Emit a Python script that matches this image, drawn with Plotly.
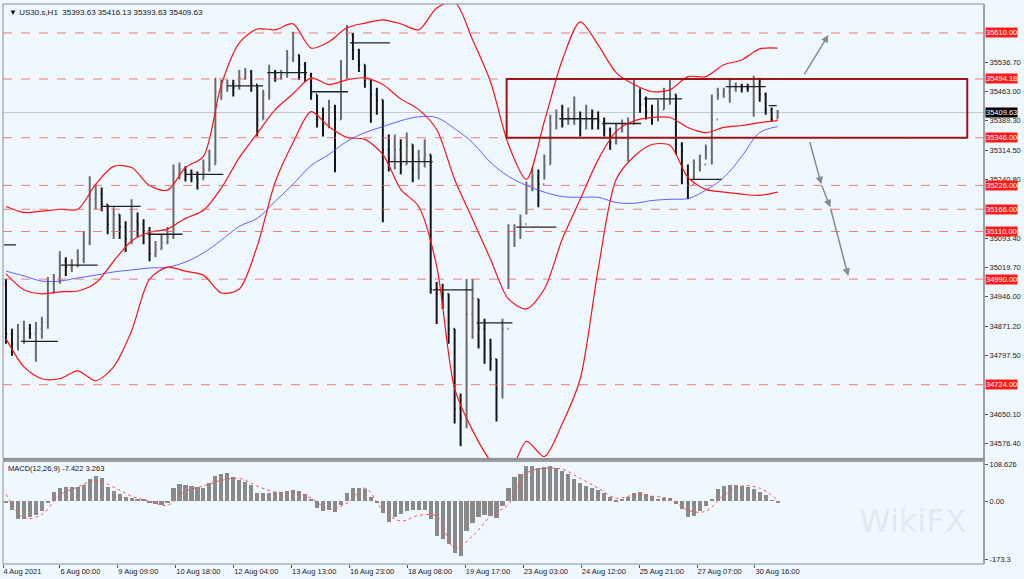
import plotly.graph_objects as go

# ---------------- data ----------------
header_text = "US30.s,H1  35393.63 35416.13 35393.63 35409.63"
macd_text = "MACD(12,26,9) -7.422 3.263"

first_open = 34978
close = [34852, 34827, 34845, 34865, 34852, 34865, 34882, 34978, 34983, 35035,
         35020, 35025, 35040, 35083, 35191, 35204, 35178, 35128, 35153, 35121,
         35091, 35136, 35128, 35111, 35053, 35065, 35083, 35096, 35254, 35266,
         35254, 35246, 35241, 35266, 35279, 35462, 35472, 35480, 35472, 35497,
         35512, 35480, 35392, 35455, 35512, 35497, 35505, 35547, 35555, 35530,
         35505, 35455, 35392, 35379, 35422, 35392, 35505, 35605, 35567, 35530,
         35492, 35455, 35442, 35316, 35291, 35316, 35279, 35329, 35266, 35291,
         35304, 34965, 34953, 34953, 34865, 34664, 34639, 34902, 34940, 34865,
         34827, 34789, 34714, 34865, 35103, 35103, 35128, 35216, 35246, 35229,
         35279, 35379, 35404, 35392, 35397, 35404, 35387, 35397, 35392, 35387,
         35367, 35334, 35362, 35379, 35387, 35462, 35429, 35412, 35399, 35417,
         35442, 35455, 35329, 35254, 35229, 35271, 35279, 35316, 35392, 35455,
         35462, 35472, 35475, 35472, 35472, 35480, 35455, 35417, 35393.63, 35409.63]
high = [34990, 34865, 34877, 34885, 34877, 34882, 34895, 34995, 35003, 35060,
        35045, 35040, 35065, 35111, 35249, 35229, 35221, 35178, 35171, 35153,
        35136, 35191, 35158, 35141, 35121, 35086, 35103, 35121, 35279, 35284,
        35274, 35266, 35261, 35291, 35316, 35497, 35492, 35492, 35492, 35517,
        35522, 35517, 35480, 35467, 35530, 35517, 35517, 35567, 35613, 35555,
        35537, 35510, 35455, 35422, 35442, 35429, 35542, 35630, 35610, 35570,
        35530, 35492, 35472, 35442, 35354, 35354, 35342, 35359, 35329, 35316,
        35342, 35304, 34983, 34978, 34953, 34865, 34702, 34990, 34990, 34940,
        34890, 34840, 34789, 34890, 35128, 35128, 35153, 35236, 35271, 35266,
        35304, 35404, 35417, 35429, 35422, 35450, 35412, 35429, 35417, 35412,
        35397, 35372, 35384, 35392, 35397, 35492, 35470, 35450, 35429, 35442,
        35472, 35492, 35455, 35335, 35279, 35291, 35304, 35329, 35455, 35472,
        35472, 35497, 35485, 35482, 35482, 35502, 35497, 35460, 35422, 35416.13]
low = [34827, 34797, 34810, 34827, 34840, 34782, 34840, 34865, 34953, 34978,
       34998, 35008, 35020, 35030, 35075, 35166, 35161, 35103, 35091, 35091,
       35058, 35078, 35096, 35078, 35035, 35045, 35065, 35078, 35091, 35241,
       35236, 35234, 35216, 35241, 35261, 35279, 35442, 35462, 35450, 35467,
       35492, 35462, 35349, 35392, 35442, 35487, 35492, 35497, 35537, 35492,
       35487, 35442, 35372, 35349, 35370, 35259, 35392, 35495, 35542, 35512,
       35472, 35384, 35404, 35133, 35261, 35266, 35254, 35279, 35234, 35241,
       35271, 34953, 34877, 34915, 34827, 34626, 34569, 34614, 34840, 34815,
       34777, 34759, 34631, 34689, 34965, 35071, 35091, 35153, 35211, 35171,
       35241, 35279, 35367, 35372, 35379, 35379, 35349, 35367, 35367, 35367,
       35349, 35316, 35329, 35359, 35286, 35379, 35409, 35392, 35379, 35387,
       35417, 35429, 35304, 35229, 35191, 35241, 35261, 35291, 35279, 35442,
       35447, 35434, 35462, 35460, 35462, 35399, 35437, 35404, 35387, 35393.63]

# indicators sampled every 3rd bar
ind_step = 3
bb_upper = [35173, 35158, 35161, 35166, 35166, 35229, 35274, 35271, 35226, 35214,
            35271, 35299, 35480, 35585, 35620, 35618, 35633, 35572, 35588, 35623,
            35635, 35643, 35633, 35618, 35673, 35688, 35593, 35487, 35329, 35241,
            35387, 35542, 35638, 35580, 35510, 35480, 35462, 35467, 35500, 35500,
            35530, 35542, 35570, 35572]
bb_middle = [35003, 34963, 34953, 34958, 34960, 34980, 35035, 35086, 35108, 35116,
             35143, 35163, 35219, 35296, 35357, 35417, 35457, 35497, 35480, 35492,
             35497, 35480, 35444, 35417, 35367, 35241, 35141, 35040, 34940, 34915,
             34965, 35091, 35191, 35291, 35362, 35389, 35397, 35397, 35372, 35359,
             35372, 35377, 35384, 35389]
bb_lower = [34840, 34769, 34739, 34739, 34759, 34734, 34769, 34860, 34990, 35020,
            35010, 35000, 34955, 34965, 35073, 35234, 35334, 35412, 35374, 35347,
            35342, 35304, 35216, 35173, 35023, 34714, 34609, 34533, 34501, 34581,
            34543, 34626, 34739, 35015, 35241, 35299, 35329, 35327, 35246, 35216,
            35209, 35204, 35201, 35209]
ma_blue = [35010, 34998, 34985, 34985, 34993, 35000, 35008, 35013, 35018, 35020,
           35033, 35056, 35088, 35123, 35143, 35186, 35229, 35276, 35304, 35337,
           35359, 35374, 35389, 35399, 35397, 35369, 35334, 35284, 35249, 35226,
           35209, 35198, 35196, 35196, 35183, 35181, 35188, 35191, 35193, 35214,
           35246, 35299, 35359, 35374]

macd_hist = [-6, -27, -53, -53, -47, -42, -30, -6, 27, 39,
             42, 42, 42, 47, 65, 74, 68, 42, 30, 21,
             12, 9, 6, 3, -6, -9, -12, -6, 39, 50,
             47, 45, 42, 39, 53, 74, 80, 83, 71, 62,
             56, 47, 24, 24, 24, 27, 27, 30, 33, 30,
             21, 6, -21, -30, -27, -33, -12, 24, 39, 39,
             36, 12, -6, -36, -62, -47, -39, -30, -27, -27,
             -27, -53, -104, -113, -128, -154, -163, -89, -65, -47,
             -42, -45, -50, -15, 39, 71, 80, 104, 104, 98,
             101, 104, 98, 89, 80, 65, 53, 45, 39, 33,
             24, 12, -2, 3, 12, 24, 27, 21, 15, 6,
             9, 9, -9, -24, -47, -45, -30, -15, 3, 36,
             45, 47, 47, 45, 42, 36, 27, 18, 2, -7.422]
macd_signal = [21, -50, -39, 18, 42, 62, 42, 15, 0, -12,
               30, 45, 62, 68, 45, 27, 27, 9, -24, -6,
               39, -27, -59, -42, -45, -139, -104, -45, -9, 83,
               98, 95, 68, 39, 9, 18, 15, 6, -27, -30,
               18, 45, 39, 3.263]

levels = [35610.00, 35494.18, 35346.00, 35226.00, 35166.00, 35110.00, 34990.00, 34724.00]
last_price = 35409.63
price_ticks = [35536.70, 35463.00, 35389.30, 35314.50, 35240.80, 35093.40,
               35019.70, 34946.00, 34871.20, 34797.50, 34650.10, 34576.40]
time_labels = ["4 Aug 2021", "6 Aug 00:00", "9 Aug 09:00", "10 Aug 18:00", "12 Aug 04:00",
               "13 Aug 13:00", "16 Aug 23:00", "18 Aug 08:00", "19 Aug 17:00", "23 Aug 03:00",
               "24 Aug 12:00", "25 Aug 21:00", "27 Aug 07:00", "30 Aug 16:00"]
macd_ticks = [108.626, 0.0, -173.3]
macd_ticktext = ["108.626", "0.00", "-173.3"]

# daily open segments (bar units)
day_open = [35076, 34833, 35025, 35173, 35103, 35254, 35477, 35510, 35462, 35585,
            35286, 34963, 34880, 35121, 35394, 35382, 35444, 35241, 35475, 35427]
day_from = [-0.33, 2.5, 9.17, 16.17, 23.67, 30, 37, 43.67, 51.17, 57.5,
            64.17, 71.33, 78.67, 85.33, 92.5, 99.67, 106.67, 114.5, 120.33, 127.5]
day_to = [1.67, 8.67, 15.33, 22.5, 29.5, 36.33, 43, 50.33, 57.17, 64.17,
          71.33, 78, 84.67, 92, 99.17, 106.17, 113, 119.67, 127, 128.83]

# drawing objects
box_from, box_to = 83.7, 160.7
box_top, box_bottom = 35494.18, 35346.00
up_arrow = [(133.3, 35502), (137.5, 35605)]
down_path = [(134.3, 35339), (136.3, 35229), (137.8, 35171), (140.8, 34998)]

# ---------------- figure ----------------
bars = list(range(len(close)))
open_ = [first_open] + close[:-1]
ind_bar = bars[::ind_step]

FONT = "Liberation Sans, Arial, sans-serif"
BG = "#f0f8ff"
X_RANGE = [-0.5, 163.5]
Y_RANGE = [34538.4, 35683.0]
MAIN_DOM = [0.1886, 1.0]
MACD_DOM = [0.0, 0.1833]

fig = go.Figure()

dx, dy = [], []
for a, b, v in zip(day_from, day_to, day_open):
    dx += [a, b, None]
    dy += [v, v, None]
fig.add_trace(go.Scatter(x=dx, y=dy, mode="lines", line=dict(color="#202020", width=1.3),
                         xaxis="x", yaxis="y", hoverinfo="skip"))

fig.add_trace(go.Scatter(x=ind_bar, y=ma_blue, mode="lines",
                         line=dict(color="rgba(70,70,255,0.85)", width=1, shape="spline"),
                         xaxis="x", yaxis="y"))
for series in (bb_upper, bb_middle, bb_lower):
    fig.add_trace(go.Scatter(x=ind_bar, y=series, mode="lines",
                             line=dict(color="#ff1010", width=1.2, shape="spline", smoothing=0.8),
                             xaxis="x", yaxis="y"))

fig.add_trace(go.Ohlc(x=bars, open=open_, high=high, low=low, close=close,
                      increasing=dict(line=dict(color="#6a6a6a", width=2)),
                      decreasing=dict(line=dict(color="#151515", width=2)),
                      tickwidth=0.2, xaxis="x", yaxis="y"))

fig.add_trace(go.Bar(x=bars, y=macd_hist, marker=dict(color="#8a8a8a", line=dict(width=0)),
                     width=0.7, xaxis="x", yaxis="y2"))
fig.add_trace(go.Scatter(x=ind_bar, y=macd_signal, mode="lines",
                         line=dict(color="#ff5050", width=1, dash="dot", shape="spline"),
                         xaxis="x", yaxis="y2"))

shapes = []
shapes.append(dict(type="line", xref="paper", x0=0, x1=1, yref="y", y0=last_price, y1=last_price,
                   line=dict(color="#c8c8c8", width=1), layer="below"))
for lv in levels:
    shapes.append(dict(type="line", xref="paper", x0=0, x1=1, yref="y", y0=lv, y1=lv,
                       line=dict(color="rgba(238,90,90,0.8)", width=1, dash="dash")))
shapes.append(dict(type="rect", xref="x", yref="y", x0=box_from, x1=box_to, y0=box_bottom, y1=box_top,
                   line=dict(color="#9e1515", width=2)))
shapes.append(dict(type="rect", xref="paper", yref="paper", x0=0, x1=1, y0=MAIN_DOM[0], y1=1,
                   line=dict(color="#8c8c8c", width=1)))
shapes.append(dict(type="rect", xref="paper", yref="paper", x0=0, x1=1, y0=0, y1=MACD_DOM[1],
                   line=dict(color="#8c8c8c", width=1)))
shapes.append(dict(type="line", xref="paper", yref="paper", x0=1, x1=1, y0=0, y1=1,
                   line=dict(color="#a0a0a0", width=2)))
shapes.append(dict(type="line", xref="paper", yref="paper", x0=0, x1=1,
                   y0=(MAIN_DOM[0] + MACD_DOM[1]) / 2, y1=(MAIN_DOM[0] + MACD_DOM[1]) / 2,
                   line=dict(color="#8c8c8c", width=2)))

annotations = []
for lv in levels:
    annotations.append(dict(xref="paper", x=1, xanchor="left", xshift=1, yref="y", y=lv,
                            text=f"{lv:.2f}", showarrow=False, bgcolor="#ff1a1a", borderpad=0,
                            font=dict(family=FONT, size=7.5, color="white")))
annotations.append(dict(xref="paper", x=1, xanchor="left", xshift=1, yref="y", y=last_price,
                        text=f"{last_price:.2f}", showarrow=False, bgcolor="#000000", borderpad=0,
                        font=dict(family=FONT, size=7.5, color="white")))
annotations.append(dict(xref="paper", yref="paper", x=0, y=1, xanchor="left", yanchor="top",
                        xshift=4, yshift=-2, text="▼ " + header_text, showarrow=False,
                        font=dict(family=FONT, size=8, color="#111")))
annotations.append(dict(xref="paper", yref="paper", x=0, y=MACD_DOM[1], xanchor="left", yanchor="top",
                        xshift=3, yshift=-1, text=macd_text, showarrow=False,
                        font=dict(family=FONT, size=7.5, color="#111")))
annotations.append(dict(xref="x", yref="y", axref="x", ayref="y",
                        x=up_arrow[1][0], y=up_arrow[1][1], ax=up_arrow[0][0], ay=up_arrow[0][1],
                        showarrow=True, arrowhead=2, arrowsize=1, arrowwidth=1.5, arrowcolor="#8a8a8a", text=""))
for (x0, y0), (x1, y1) in zip(down_path[:-1], down_path[1:]):
    annotations.append(dict(xref="x", yref="y", axref="x", ayref="y",
                            x=x1, y=y1, ax=x0, ay=y0, showarrow=True, arrowhead=2, arrowsize=1,
                            arrowwidth=1.5, arrowcolor="#8a8a8a", text=""))
annotations.append(dict(xref="paper", yref="paper", x=0.985, y=0.04, xanchor="right", yanchor="bottom",
                        text="WikiFX", showarrow=False,
                        font=dict(family="DejaVu Sans", size=32, color="rgba(195,205,220,0.35)")))

label_step = 9.683
tick_pos = [max(X_RANGE[0], -0.667 + label_step * i) for i in range(len(time_labels))]

axis_font = dict(family=FONT, size=7.5, color="#222")
fig.update_layout(
    width=1024, height=579,
    margin=dict(l=3, r=37, t=4, b=13),
    paper_bgcolor=BG, plot_bgcolor=BG,
    showlegend=False,
    bargap=0,
    xaxis=dict(domain=[0, 1], range=X_RANGE, anchor="y2", tickvals=tick_pos, ticktext=time_labels,
               ticks="outside", ticklen=3, tickcolor="#555", ticklabelposition="outside right",
               tickfont=axis_font, showgrid=False, zeroline=False, showline=False,
               rangeslider=dict(visible=False)),
    yaxis=dict(domain=MAIN_DOM, range=Y_RANGE, side="right", anchor="x",
               tickvals=price_ticks, ticktext=[f"{v:.2f}" for v in price_ticks],
               ticks="outside", ticklen=3, tickcolor="#555", tickfont=axis_font,
               showgrid=False, zeroline=False, showline=False),
    yaxis2=dict(domain=MACD_DOM, range=[-187, 118.7], side="right", anchor="x",
                tickvals=macd_ticks, ticktext=macd_ticktext,
                ticks="outside", ticklen=3, tickcolor="#555", tickfont=axis_font,
                showgrid=False, zeroline=False, showline=False),
    shapes=shapes, annotations=annotations,
)

fig.write_html("out.html", config={"displayModeBar": False},
               post_script="document.body.style.margin='0px';document.body.style.overflow='hidden';")
